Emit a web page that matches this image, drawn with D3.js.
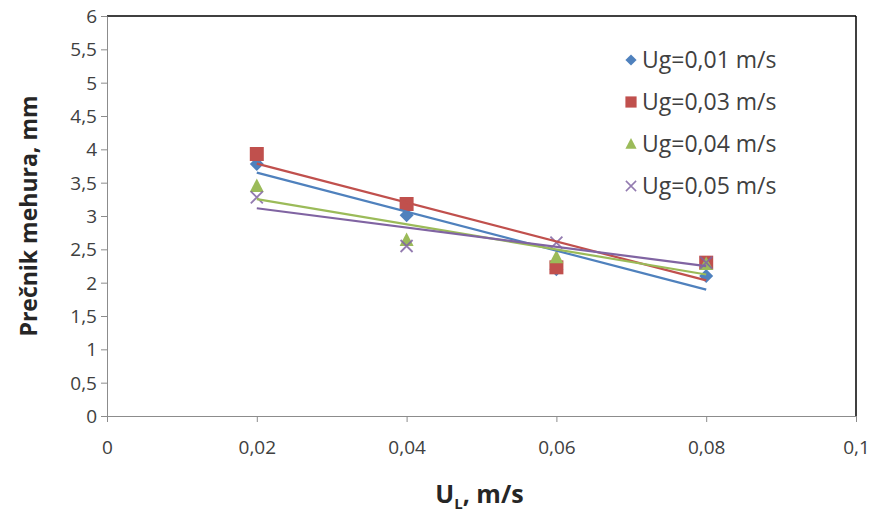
<!DOCTYPE html>
<html>
<head>
<meta charset="utf-8">
<script src="https://cdn.jsdelivr.net/npm/d3@7/dist/d3.min.js"></script>
<style>
    body { margin: 0; background: #fff; }
    svg { display: block; font-family: "Open Sans", Lato, sans-serif; }
</style>
</head>
<body>
<svg id="chart" width="872" height="513"></svg>
<script>
// liquid velocity U_L (m/s)
var ulValues = [0.02, 0.04, 0.06, 0.08];
// bubble diameter (mm) for each gas velocity
var ug001 = [3.78, 3.01, 2.20, 2.10];
var ug003 = [3.93, 3.18, 2.23, 2.30];
var ug004 = [3.45, 2.64, 2.38, 2.28];
var ug005 = [3.28, 2.55, 2.60, 2.30];
var seriesNames = ['Ug=0,01 m/s', 'Ug=0,03 m/s', 'Ug=0,04 m/s', 'Ug=0,05 m/s'];
var xTicks = [0, 0.02, 0.04, 0.06, 0.08, 0.1];
var yTicks = [0, 0.5, 1, 1.5, 2, 2.5, 3, 3.5, 4, 4.5, 5, 5.5, 6];

var colors = ['#4f81bd', '#c0504d', '#9bbb59', '#8064a2'];
var shapes = ['diamond', 'square', 'triangle', 'cross'];

var svg = d3.select('#chart');
var margin = {left: 107, right: 16, top: 16, bottom: 97};
var width = 872 - margin.left - margin.right;
var height = 513 - margin.top - margin.bottom;

var locale = d3.formatLocale({decimal: ',', thousands: '.', grouping: [3], currency: ['', '']});
var fmt = locale.format('~g');

var x = d3.scaleLinear().domain([0, 0.1]).range([0, width]);
var y = d3.scaleLinear().domain([0, 6]).range([height, 0]);

var g = svg.append('g').attr('transform', 'translate(' + margin.left + ',' + margin.top + ')');

// Frame: top and right are dark, axes are grey
g.append('line').attr('x1', 0).attr('x2', width).attr('y1', 0).attr('y2', 0)
    .attr('stroke', '#000').attr('stroke-width', 1.5);
g.append('line').attr('x1', width).attr('x2', width).attr('y1', 0).attr('y2', height)
    .attr('stroke', '#000').attr('stroke-width', 1.5);

var xAxis = g.append('g').attr('transform', 'translate(0,' + height + ')')
    .call(d3.axisBottom(x).tickValues(xTicks).tickFormat(fmt).tickSize(6).tickSizeOuter(0));
var yAxis = g.append('g')
    .call(d3.axisLeft(y).tickValues(yTicks).tickFormat(fmt).tickSize(6).tickSizeOuter(0));

[xAxis, yAxis].forEach(function(a) {
    a.selectAll('path, line').attr('stroke', '#8c8c8c').attr('stroke-width', 1);
    a.selectAll('text').attr('fill', '#404040').style('font-size', '19px')
        .style('font-family', '"Open Sans", Lato, sans-serif');
});
xAxis.selectAll('text').attr('dy', '0').attr('y', 38);
yAxis.selectAll('text').attr('x', -10).attr('dy', '0.35em');

// Axis titles
svg.append('text')
    .attr('transform', 'translate(37,' + (margin.top + height / 2) + ') rotate(-90)')
    .attr('text-anchor', 'middle')
    .style('font-size', '23px').style('font-weight', 'bold').attr('fill', '#262626')
    .text('Prečnik mehura, mm');

var xt = svg.append('text')
    .attr('x', margin.left + width / 2 - 2).attr('y', 503)
    .attr('text-anchor', 'middle')
    .style('font-size', '25px').style('font-weight', 'bold').attr('fill', '#262626');
xt.append('tspan').text('U');
xt.append('tspan').attr('dy', 6).style('font-size', '15px').text('L');
xt.append('tspan').attr('dy', -6).text(', m/s');

function markerPath(shape) {
    switch (shape) {
        case 'diamond':
            return 'M0,-7L7,0L0,7L-7,0Z';
        case 'square':
            return 'M-7,-7H7V7H-7Z';
        case 'triangle':
            return 'M0,-7.5L7,6L-7,6Z';
        case 'cross':
            return 'M-6,-6L6,6M-6,6L6,-6';
    }
}

function drawMarker(sel, i) {
    var p = sel.append('path').attr('d', markerPath(shapes[i]));
    if (shapes[i] === 'cross') {
        p.attr('fill', 'none').attr('stroke', colors[i]).attr('stroke-width', 1.8).attr('opacity', 0.85);
    } else {
        p.attr('fill', colors[i]);
    }
    return p;
}

var allSeries = [ug001, ug003, ug004, ug005];

// Markers
allSeries.forEach(function(vals, i) {
    vals.forEach(function(v, j) {
        var m = g.append('g').attr('transform', 'translate(' + x(ulValues[j]) + ',' + y(v) + ')');
        drawMarker(m, i);
    });
});

// Linear trendlines (least squares on each series)
function linearFit(xs, ys) {
    var mx = d3.mean(xs), my = d3.mean(ys);
    var num = d3.sum(xs, function(d, k) { return (d - mx) * (ys[k] - my); });
    var den = d3.sum(xs, function(d) { return (d - mx) * (d - mx); });
    var b = num / den;
    return function(v) { return my + b * (v - mx); };
}

var line = d3.line().x(function(d) { return x(d[0]); }).y(function(d) { return y(d[1]); });
allSeries.forEach(function(vals, i) {
    var f = linearFit(ulValues, vals);
    var x0 = d3.min(ulValues), x1 = d3.max(ulValues);
    g.append('path')
        .attr('d', line([[x0, f(x0)], [x1, f(x1)]]))
        .attr('stroke', colors[i]).attr('stroke-width', 2.2).attr('fill', 'none');
});

// Legend
var legend = svg.append('g').attr('transform', 'translate(631,60)');
seriesNames.forEach(function(name, i) {
    var row = legend.append('g').attr('transform', 'translate(0,' + (i * 42) + ')');
    var m = row.append('g').attr('transform', i === 3 ? 'scale(0.85)' : 'scale(0.8)');
    drawMarker(m, i);
    row.append('text').attr('x', 11).attr('y', 0).attr('dy', '0.35em')
        .style('font-size', '23px').attr('fill', '#404040').text(name);
});
</script>
</body>
</html>
